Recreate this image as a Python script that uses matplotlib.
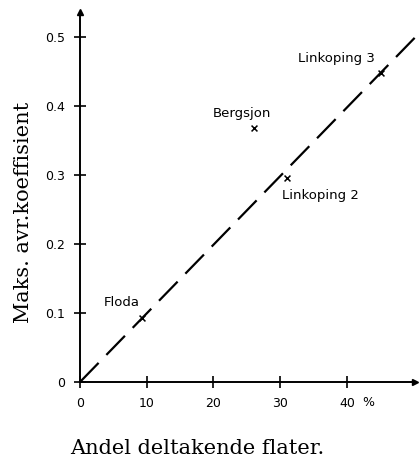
import matplotlib
matplotlib.use('Agg')
import matplotlib.pyplot as plt

# Data
names = ['Floda', 'Bergsjon', 'Linkoping 2', 'Linkoping 3']
andel = [9.3, 26.1, 31.0, 45.1]          # % deltakende flater
koeff = [0.093, 0.368, 0.296, 0.448]     # maks. avr.koeffisient
# label offsets in pixels (dx, dy) from each point
offsets = [(-20, 15), (-12, 14), (34, -18), (-45, 14)]

line_x = [0, 51]
line_y = [0, 0.507]

xticks = [0, 10, 20, 30, 40]
yticks = [0, 0.1, 0.2, 0.3, 0.4, 0.5]
ytick_labels = ['0', '0.1', '0.2', '0.3', '0.4', '0.5']

fig = plt.figure(figsize=(4.2, 4.59), dpi=100)
W, H = 420, 459
ax = fig.add_axes([80 / W, (H - 382) / H, (415 - 80) / W, (382 - 12) / H])

ax.set_xlim(0, 50.2)
ax.set_ylim(0, 0.536)

for s in ['top', 'right']:
    ax.spines[s].set_visible(False)
for s in ['left', 'bottom']:
    ax.spines[s].set_linewidth(1.4)
    ax.spines[s].set_color('black')

# arrow heads
ax.plot(1, 0, '>k', ms=5, transform=ax.transAxes, clip_on=False)
ax.plot(0, 1, '^k', ms=5, transform=ax.transAxes, clip_on=False)

ax.set_xticks(xticks)
ax.set_xticklabels([str(t) for t in xticks])
ax.set_yticks(yticks)
ax.set_yticklabels(ytick_labels)
ax.tick_params(direction='inout', length=8, width=1.2, labelsize=9, pad=7)
ax.text(43.2, -0.03, '%', fontsize=9, ha='center', va='center', clip_on=False)

ax.plot(line_x, line_y, color='black', lw=1.6, dashes=(12, 5), clip_on=False)
ax.scatter(andel, koeff, marker='x', color='black', s=18, lw=1.1, zorder=3)

for n, xv, yv, (dx, dy) in zip(names, andel, koeff, offsets):
    ax.annotate(n, (xv, yv), xytext=(dx, dy), textcoords='offset pixels',
                ha='center', va='center', fontsize=9.5)

fig.text(197 / W, 1 - 448 / H, 'Andel deltakende flater.', family='DejaVu Serif',
         fontsize=15, ha='center', va='center')
fig.text(24 / W, 1 - 212 / H, 'Maks. avr.koeffisient', family='DejaVu Serif',
         fontsize=15, ha='center', va='center', rotation=90)

fig.savefig('out.png', dpi=100)
